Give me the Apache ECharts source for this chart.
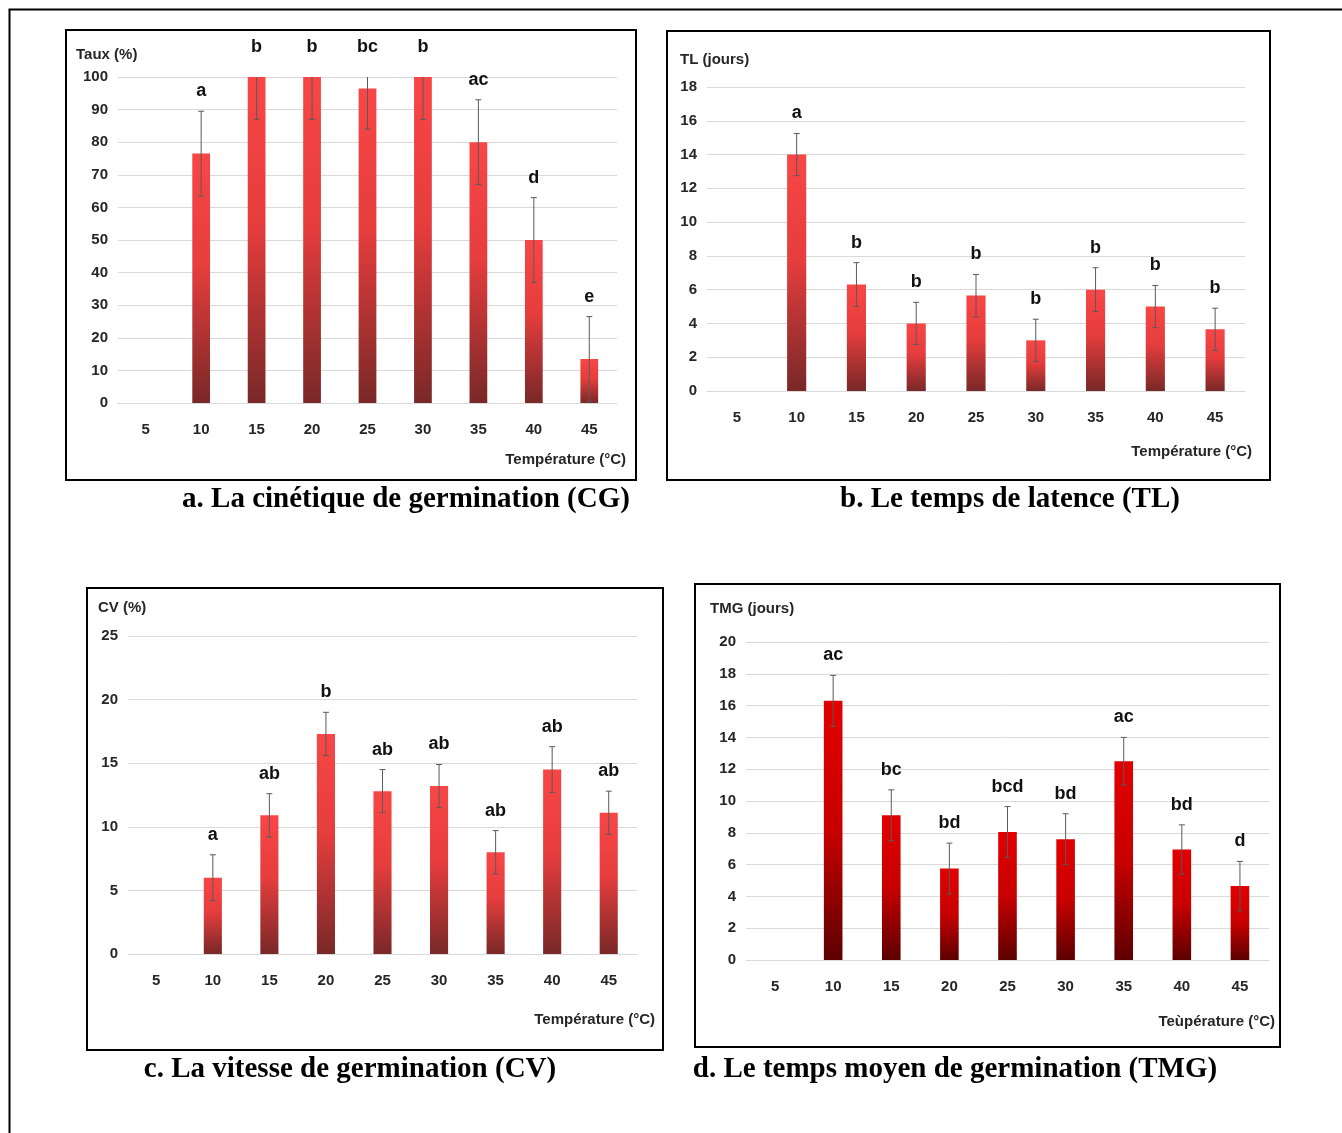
<!DOCTYPE html>
<html><head><meta charset="utf-8">
<script src="https://cdn.jsdelivr.net/npm/echarts@6/dist/echarts.min.js"></script>
<style>html,body{margin:0;padding:0;background:#fff}#c{width:1342px;height:1133px}</style>
</head><body><div id="c"></div>
<script>
// ---- data ----
const temperatures = ['5', '10', '15', '20', '25', '30', '35', '40', '45'];

const cgValues  = [0, 76.5, 100, 100, 96.5, 100, 80, 50, 13.5];
const cgErrors  = [0, 13, 13, 13, 12.5, 13, 13, 13, 13];
const cgLetters = ['', 'a', 'b', 'b', 'bc', 'b', 'ac', 'd', 'e'];

const tlValues  = [0, 14, 6.3, 4.0, 5.65, 3.0, 6.0, 5.0, 3.65];
const tlErrors  = [0, 1.25, 1.3, 1.25, 1.25, 1.25, 1.3, 1.25, 1.25];
const tlLetters = ['', 'a', 'b', 'b', 'b', 'b', 'b', 'b', 'b'];

const cvValues  = [0, 6.0, 10.9, 17.3, 12.8, 13.2, 8.0, 14.5, 11.1];
const cvErrors  = [0, 1.8, 1.7, 1.7, 1.7, 1.7, 1.7, 1.8, 1.7];
const cvLetters = ['', 'a', 'ab', 'b', 'ab', 'ab', 'ab', 'ab', 'ab'];

const tmgValues  = [0, 16.3, 9.1, 5.75, 8.05, 7.6, 12.5, 6.95, 4.65];
const tmgErrors  = [0, 1.6, 1.6, 1.6, 1.6, 1.6, 1.5, 1.55, 1.55];
const tmgLetters = ['', 'ac', 'bc', 'bd', 'bcd', 'bd', 'ac', 'bd', 'd'];

// ---- layout / style ----
const FONT = '"Liberation Sans Narrow", "Liberation Sans", sans-serif';
const SERIF = '"Liberation Serif", "Times New Roman", serif';
const redGrad = [{offset: 0, color: '#f84646'}, {offset: 0.45, color: '#e63d3d'}, {offset: 1, color: '#792828'}];
const darkRedGrad = [{offset: 0, color: '#e20000'}, {offset: 0.5, color: '#c80000'}, {offset: 1, color: '#5c0000'}];

const panels = [
  {values: cgValues, errors: cgErrors, letters: cgLetters, max: 100, interval: 10,
   grid: {left: 118, top: 77, width: 499, height: 326}, grad: redGrad,
   yName: 'Taux (%)', yNamePos: [76, 55], xName: 'Température (°C)', xNamePos: [626, 460],
   box: [66, 30, 570, 450], caption: 'a. La cinétique de germination (CG)', capPos: [406, 500]},
  {values: tlValues, errors: tlErrors, letters: tlLetters, max: 18, interval: 2,
   grid: {left: 707, top: 87, width: 538, height: 304}, grad: redGrad,
   yName: 'TL (jours)', yNamePos: [680, 60], xName: 'Température (°C)', xNamePos: [1252, 452],
   box: [667, 31, 603, 449], caption: 'b. Le temps de latence (TL)', capPos: [1010, 500]},
  {values: cvValues, errors: cvErrors, letters: cvLetters, max: 25, interval: 5,
   grid: {left: 128, top: 636, width: 509, height: 318}, grad: redGrad,
   yName: 'CV (%)', yNamePos: [98, 608], xName: 'Température (°C)', xNamePos: [655, 1020],
   box: [87, 588, 576, 462], caption: 'c. La vitesse de germination (CV)', capPos: [350, 1070]},
  {values: tmgValues, errors: tmgErrors, letters: tmgLetters, max: 20, interval: 2,
   grid: {left: 746, top: 642, width: 523, height: 318}, grad: darkRedGrad,
   yName: 'TMG (jours)', yNamePos: [710, 609], xName: 'Teùpérature (°C)', xNamePos: [1275, 1022],
   box: [695, 584, 585, 463], caption: 'd. Le temps moyen de germination (TMG)', capPos: [955, 1070]}
];

const grids = [], xAxes = [], yAxes = [], series = [], graphics = [];

graphics.push({type: 'rect', shape: {x: 9.5, y: 9.5, width: 1400, height: 1200},
  style: {fill: 'transparent', stroke: '#000', lineWidth: 2}, z: 100});

panels.forEach((p, k) => {
  grids.push(p.grid);
  xAxes.push({type: 'category', gridIndex: k, data: temperatures,
    axisLine: {show: true, lineStyle: {color: '#d9d9d9', width: 1}},
    axisTick: {show: false},
    axisLabel: {margin: 19, fontFamily: FONT, fontWeight: 'bold', fontSize: 15, color: '#262626'}});
  yAxes.push({type: 'value', gridIndex: k, min: 0, max: p.max, interval: p.interval,
    axisLine: {show: false}, axisTick: {show: false},
    splitLine: {lineStyle: {color: '#d9d9d9', width: 1}},
    axisLabel: {margin: 10, fontFamily: FONT, fontWeight: 'bold', fontSize: 15, color: '#262626'}});
  series.push({type: 'bar', xAxisIndex: k, yAxisIndex: k, data: p.values, barWidth: '32%',
    itemStyle: {color: new echarts.graphic.LinearGradient(0, 0, 0, 1, p.grad)}, z: 2});
  const errData = p.values.map((v, i) => [i, v, p.errors[i]]);
  series.push({type: 'custom', xAxisIndex: k, yAxisIndex: k, data: errData, clip: true, z: 3,
    encode: {x: 0, y: 1},
    renderItem: (params, api) => {
      const i = api.value(0), v = api.value(1), e = api.value(2);
      if (!e) return null;
      const top = api.coord([i, v + e]), bot = api.coord([i, v - e]);
      const c = 3, st = {stroke: '#5a5a5a', lineWidth: 1};
      return {type: 'group', children: [
        {type: 'line', shape: {x1: top[0], y1: top[1], x2: bot[0], y2: bot[1]}, style: st},
        {type: 'line', shape: {x1: top[0] - c, y1: top[1], x2: top[0] + c, y2: top[1]}, style: st},
        {type: 'line', shape: {x1: bot[0] - c, y1: bot[1], x2: bot[0] + c, y2: bot[1]}, style: st}
      ]};
    }});
  const letterData = p.values.map((v, i) => [i, v, p.errors[i]]);
  series.push({type: 'custom', xAxisIndex: k, yAxisIndex: k, data: letterData, clip: false, z: 4,
    encode: {x: 0, y: 1},
    renderItem: (params, api) => {
      const i = api.value(0), v = api.value(1), e = api.value(2);
      const txt = p.letters[i];
      if (!txt) return null;
      const pt = api.coord([i, v + e]);
      const y = Math.max(pt[1], params.coordSys.y - 10) - 20;
      return {type: 'text', x: pt[0], y: y,
        style: {text: txt, fontFamily: FONT, fontWeight: 'bold', fontSize: 18, fill: '#111',
          align: 'center', verticalAlign: 'middle'}};
    }});
  graphics.push({type: 'rect', shape: {x: p.box[0], y: p.box[1], width: p.box[2], height: p.box[3]},
    style: {fill: 'transparent', stroke: '#000', lineWidth: 2}, z: 100});
  graphics.push({type: 'text', x: p.yNamePos[0], y: p.yNamePos[1],
    style: {text: p.yName, fontFamily: FONT, fontWeight: 'bold', fontSize: 15, fill: '#262626',
      align: 'left', verticalAlign: 'middle'}});
  graphics.push({type: 'text', x: p.xNamePos[0], y: p.xNamePos[1],
    style: {text: p.xName, fontFamily: FONT, fontWeight: 'bold', fontSize: 15, fill: '#262626',
      align: 'right', verticalAlign: 'middle'}});
  graphics.push({type: 'text', x: p.capPos[0], y: p.capPos[1],
    style: {text: p.caption, fontFamily: SERIF, fontWeight: 'bold', fontSize: 29, fill: '#000',
      align: 'center', verticalAlign: 'middle'}});
});

const chart = echarts.init(document.getElementById('c'), null, {renderer: 'canvas'});
chart.setOption({
  animation: false,
  backgroundColor: '#fff',
  grid: grids, xAxis: xAxes, yAxis: yAxes, series: series, graphic: graphics
});
</script></body></html>
